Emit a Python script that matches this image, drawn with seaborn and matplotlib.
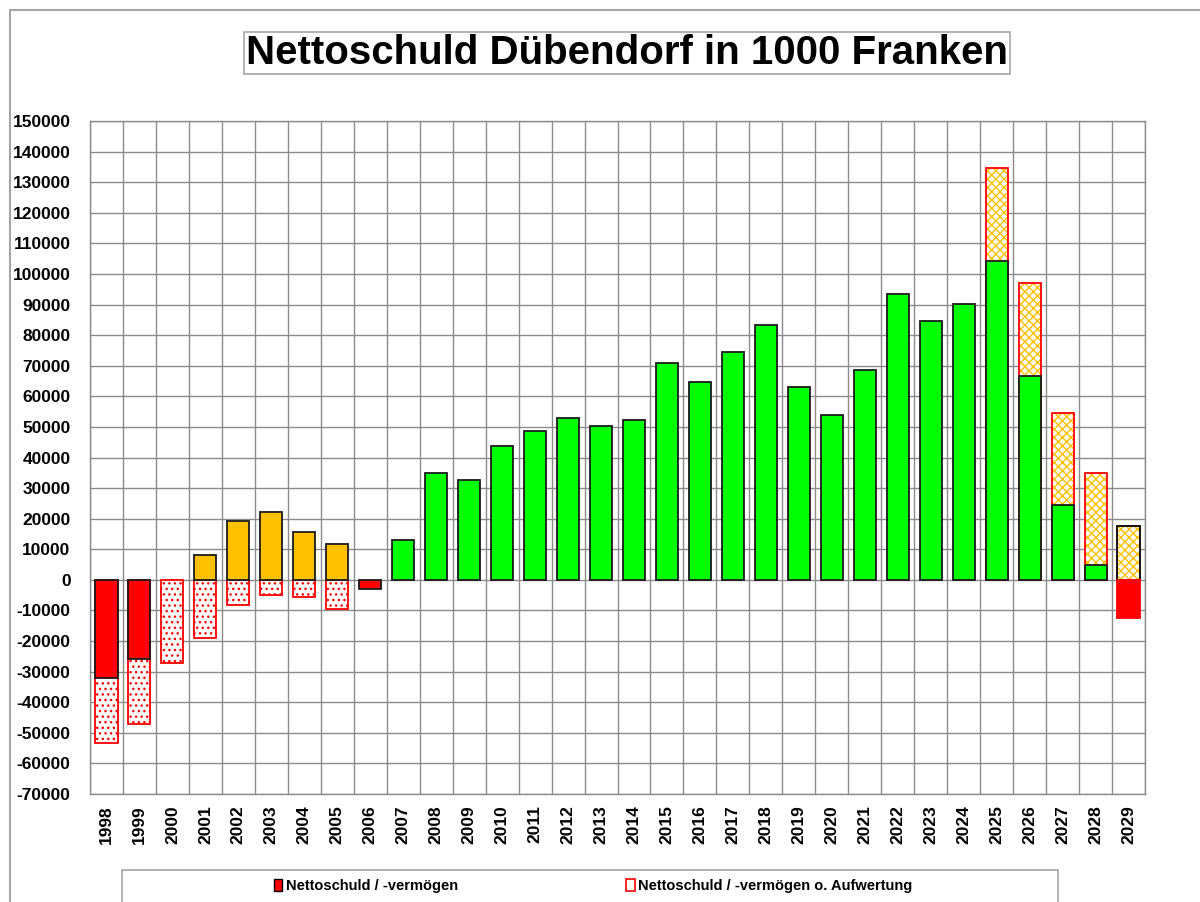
import numpy as np
import pandas as pd
import matplotlib
matplotlib.use('Agg')
import matplotlib.pyplot as plt
import matplotlib.patches as mpatches
from matplotlib.colors import to_rgba
import seaborn as sns

# --- Daten (Werte in 1000 Franken) ---
jahre = ['1998', '1999', '2000', '2001', '2002', '2003', '2004', '2005',
         '2006', '2007', '2008', '2009', '2010', '2011', '2012', '2013',
         '2014', '2015', '2016', '2017', '2018', '2019', '2020', '2021',
         '2022', '2023', '2024', '2025', '2026', '2027', '2028', '2029']

nettoschuld = [-32000, -26000, np.nan, 8200, 19300, 22200, 15700, 11800,
               -3000, 13000, 35000, 32700, 43800, 48700, 53000, 50300,
               52300, 70900, 64700, 74500, 83300, 63100, 53900, 68600,
               93500, 84600, 90200, 104200, 66700, 24500, 4900, -12400]

ohne_aufwertung = [-53300, -47100, -27200, -19000, -8200, -4900, -5600, -9500,
                   np.nan, np.nan, np.nan, np.nan, np.nan, np.nan, np.nan, np.nan,
                   np.nan, np.nan, np.nan, np.nan, np.nan, np.nan, np.nan, np.nan,
                   np.nan, np.nan, np.nan, 134600, 97000, 54600, 35000, 17600]

# Farbgruppe je Jahr (r = rot, o = orange, g = gruen)
gruppe = ['r', 'r', 'r', 'o', 'o', 'o', 'o', 'o', 'r'] + ['g'] * 22 + ['r']

ROT = '#FF0000'
ORANGE = '#FFC000'
GRUEN = '#00FF00'
GRAU = '#8c8c8c'
farbe = {'r': ROT, 'o': ORANGE, 'g': GRUEN}

df = pd.DataFrame({'Jahr': jahre, 'netto': nettoschuld, 'ohne': ohne_aufwertung})

schrift = ['Liberation Sans', 'DejaVu Sans']

sns.set_style('white')
plt.rcParams['font.family'] = schrift
plt.rcParams['text.color'] = 'black'
plt.rcParams['xtick.color'] = 'black'
plt.rcParams['ytick.color'] = 'black'
plt.rcParams['hatch.linewidth'] = 1.0

fig = plt.figure(figsize=(12, 9.02), dpi=100)
ax = fig.add_axes([90 / 1200, 1 - 794 / 902, 1055 / 1200, 673 / 902])


def hatch_farbe(p, c):
    # Schraffurfarbe getrennt von der Randfarbe setzen
    if hasattr(p, 'set_hatchcolor'):
        p.set_hatchcolor(c)
    else:
        p._hatch_color = to_rgba(c)


# 1) Nettoschuld ohne Aufwertung (schraffiert, hinten)
sns.barplot(data=df, x='Jahr', y='ohne', order=jahre, color='white',
            width=0.67, saturation=1, errorbar=None, ax=ax)
for p in ax.patches:
    i = int(round(p.get_x() + p.get_width() / 2))
    wert = ohne_aufwertung[i]
    p.set_facecolor('white')
    p.set_linewidth(1.3)
    if wert < 0:
        p.set_edgecolor(ROT)
        p.set_hatch('...')
        hatch_farbe(p, ROT)
    else:
        p.set_edgecolor('black' if jahre[i] == '2029' else ROT)
        p.set_hatch('xxxx')
        hatch_farbe(p, ORANGE)
n_hinten = len(ax.patches)

# 2) Nettoschuld / -vermoegen (voll, vorne)
sns.barplot(data=df, x='Jahr', y='netto', order=jahre, color=GRUEN,
            width=0.67, saturation=1, errorbar=None, ax=ax)
for p in ax.patches[n_hinten:]:
    i = int(round(p.get_x() + p.get_width() / 2))
    p.set_facecolor(farbe[gruppe[i]])
    p.set_edgecolor(ROT if jahre[i] == '2029' else '#1a1a1a')
    p.set_linewidth(1.3)

# --- Achsen ---
ax.set_xlim(-0.5, len(jahre) - 0.5)
ax.set_ylim(-70000, 150000)
ax.set_yticks(np.arange(-70000, 150001, 10000))
ax.set_yticklabels([str(v) for v in range(-70000, 150001, 10000)],
                   fontsize=12.5, fontweight='bold')
ax.set_xticks(range(len(jahre)))
ax.set_xticklabels(jahre, rotation=90, fontsize=12.5, fontweight='bold')
ax.set_xticks(np.arange(-0.5, len(jahre)), minor=True)
ax.set_xlabel('')
ax.set_ylabel('')

ax.tick_params(axis='x', which='both', length=0, pad=8)
ax.tick_params(axis='y', which='major', length=6, width=1, color=GRAU, pad=8)
ax.grid(False)
ax.grid(which='minor', axis='x', color=GRAU, linewidth=1)
ax.grid(which='major', axis='y', color=GRAU, linewidth=1)
ax.set_axisbelow(True)
for s in ax.spines.values():
    s.set_visible(True)
    s.set_color(GRAU)
    s.set_linewidth(1)

# --- Titel ---
fig.text(627 / 1200, 1 - 53 / 902, 'Nettoschuld Dübendorf in 1000 Franken',
         ha='center', va='center', fontsize=29, fontweight='bold', color='black',
         bbox=dict(facecolor='white', edgecolor='#a6a6a6', linewidth=1.2,
                   boxstyle='square,pad=0.06'))

# --- Rahmen um das Diagramm ---
fig.add_artist(mpatches.Rectangle((10 / 1200, -0.05), 1.2, 1 - 10 / 902 + 0.05,
                                  transform=fig.transFigure, fill=False,
                                  edgecolor='#a6a6a6', linewidth=1.5, clip_on=False))

# --- Legende ---
fig.add_artist(mpatches.Rectangle((122 / 1200, -0.05), (1058 - 122) / 1200,
                                  32 / 902 + 0.05, transform=fig.transFigure,
                                  fill=False, edgecolor='#a6a6a6', linewidth=1.2,
                                  clip_on=False))
griffe = [mpatches.Patch(facecolor=ROT, edgecolor='black', linewidth=1),
          mpatches.Patch(facecolor='white', edgecolor=ROT, linewidth=1.2)]
fig.legend(griffe, ['Nettoschuld / -vermögen', 'Nettoschuld / -vermögen o. Aufwertung'],
           ncol=2, loc='center', bbox_to_anchor=(593 / 1200, 16 / 902),
           frameon=False, handlelength=0.6, handleheight=0.8, handletextpad=0.25,
           columnspacing=11.5, borderpad=0,
           prop=dict(weight='bold', size=10.5))

fig.savefig('out.png', dpi=100, facecolor='white')
